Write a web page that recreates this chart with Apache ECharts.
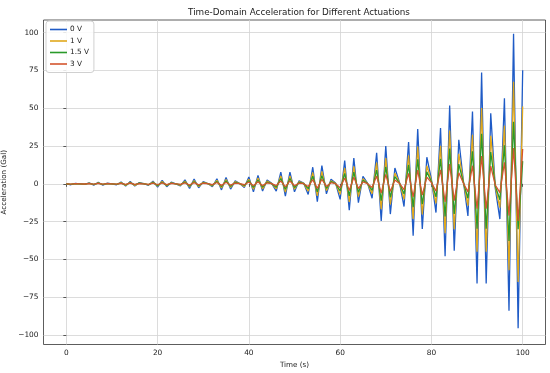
<!DOCTYPE html>
<html><head><meta charset="utf-8">
<script src="https://cdn.jsdelivr.net/npm/echarts@6/dist/echarts.min.js"></script>
<style>html,body{margin:0;padding:0;background:#fff}#c{width:550px;height:373px}</style>
</head><body><div id="c"></div>
<script>
const times = Array.from({length: 101}, (_, i) => i);
const v0 = [0,-0.6,0.3,0,-0.4,0.7,-0.9,1.0,-0.9,0.5,0,-0.6,1.2,-1.5,1.6,-1.4,0.8,0.1,-1.0,1.8,-2.2,2.3,-1.9,1.1,0,-1.4,2.6,-3.0,3.1,-2.6,1.5,0.2,-1.9,3.4,-4.0,4.2,-3.5,2.0,0.2,-2.5,4.6,-5.3,5.6,-4.8,2.6,0.3,-4.8,7.7,-8.1,7.7,-5.3,2.0,0.5,-7.0,11.0,-11.8,12.0,-6.6,3.0,0.5,-10.3,15.4,-17.5,17.1,-12.5,5.0,0.5,-9.5,20.6,-24.6,25.0,-20.0,10.5,1.0,-15.0,27.7,-34.3,36.2,-29.9,17.6,3.0,-19.0,36.9,-47.9,51.8,-44.2,29.2,2.0,-21.2,47.8,-66.0,73.7,-66.0,46.7,-3.0,-23.3,56.6,-84.0,99.3,-95.6,75.2];
const v1 = [0,-0.4,0.2,0,-0.3,0.5,-0.6,0.7,-0.6,0.3,0,-0.4,0.8,-1.0,1.1,-1.0,0.5,0.1,-0.7,1.2,-1.5,1.6,-1.3,0.7,0,-1.0,1.8,-2.0,2.1,-1.8,1.0,0.1,-1.3,2.3,-2.7,2.9,-2.4,1.4,0.1,-1.7,3.1,-3.6,3.8,-3.3,1.8,0.2,-3.3,5.2,-5.5,5.2,-3.6,1.4,0.3,-4.8,7.5,-8.0,8.2,-4.5,2.0,0.3,-7.0,10.5,-11.9,11.6,-8.5,3.4,0.3,-6.5,14.0,-16.7,17.0,-13.6,7.1,0.7,-10.2,18.8,-23.3,24.6,-20.3,12.0,2.0,-12.9,25.1,-32.6,35.2,-30.1,19.9,1.4,-14.4,32.5,-44.9,50.1,-44.9,31.8,-2.0,-15.8,38.5,-57.1,67.5,-65.0,51.1];
const v15 = [0,-0.3,0.1,0,-0.2,0.3,-0.4,0.5,-0.4,0.2,0,-0.3,0.5,-0.7,0.7,-0.6,0.4,0,-0.5,0.8,-1.0,1.0,-0.9,0.5,0,-0.6,1.2,-1.4,1.4,-1.2,0.7,0.1,-0.9,1.5,-1.8,1.9,-1.6,0.9,0.1,-1.1,2.1,-2.4,2.5,-2.2,1.2,0.1,-2.2,3.5,-3.6,3.5,-2.4,0.9,0.2,-3.2,5.0,-5.3,5.4,-3.0,1.4,0.2,-4.6,6.9,-7.9,7.7,-5.6,2.3,0.2,-4.3,9.3,-11.1,11.3,-9.0,4.7,0.5,-6.8,12.5,-15.4,16.3,-13.5,7.9,1.4,-8.6,16.6,-21.6,23.3,-19.9,13.1,0.9,-9.5,21.5,-29.7,33.2,-29.7,21.0,-1.4,-10.5,25.5,-37.8,41.0,-30.0,15.0];
const v3 = [0,-0.2,0.1,0,-0.1,0.2,-0.2,0.3,-0.2,0.1,0,-0.2,0.3,-0.4,0.4,-0.4,0.2,0,-0.3,0.5,-0.6,0.6,-0.5,0.3,0,-0.4,0.7,-0.8,0.8,-0.7,0.4,0.1,-0.5,0.9,-1.0,1.1,-0.9,0.5,0.1,-0.6,1.2,-1.3,1.4,-1.2,0.7,0.1,-1.2,1.9,-2.0,1.9,-1.3,0.5,0.1,-1.8,2.8,-3.0,3.0,-1.7,0.8,0.1,-2.6,3.9,-4.4,4.3,-3.1,1.3,0.1,-2.4,5.2,-6.2,6.3,-5.0,2.6,0.3,-3.8,6.9,-8.6,9.1,-7.5,4.4,0.8,-4.8,9.2,-12.0,13.0,-11.1,7.3,0.5,-5.3,12.0,-16.5,18.4,-16.5,11.7,-0.8,-5.8,14.2,-21.0,23.7,-24.5,23.0];
const seriesNames = ['0 V', '1 V', '1.5 V', '3 V'];
const seriesValues = [v0, v1, v15, v3];
const seriesColors = ['#1f5bc6', '#e0a81c', '#2a9a2a', '#d4552e'];
const xTicks = [0, 20, 40, 60, 80, 100];
const yTicks = [-100, -75, -50, -25, 0, 25, 50, 75, 100];

const chart = echarts.init(document.getElementById('c'), null, {renderer: 'canvas'});
const font = 'DejaVu Sans';
chart.setOption({
  animation: false,
  backgroundColor: '#fff',
  title: {
    text: 'Time-Domain Acceleration for Different Actuations',
    left: 294, top: 3, textAlign: 'center',
    textStyle: {fontFamily: font, fontSize: 8.8, fontWeight: 'normal', color: '#222'}
  },
  legend: {
    orient: 'vertical', left: 46, top: 21,
    data: seriesNames,
    icon: 'rect', itemWidth: 17, itemHeight: 1.6, itemGap: 2.5,
    padding: [4, 5, 4, 4],
    borderColor: '#d0d0d0', borderWidth: 1, borderRadius: 3,
    backgroundColor: 'rgba(255,255,255,0.85)',
    textStyle: {fontFamily: font, fontSize: 7.3, color: '#222', lineHeight: 9, padding: [0, 0, 0, -2]}
  },
  grid: {left: 43.5, right: 4.5, top: 20, bottom: 28.5, show: true, borderColor: '#333', borderWidth: 0.8,
    containLabel: false, outerBoundsMode: 'none'},
  xAxis: {
    type: 'value', min: -5, max: 105,
    name: 'Time (s)', nameLocation: 'middle', nameGap: 15,
    nameTextStyle: {fontFamily: font, fontSize: 7.2, color: '#222'},
    axisLine: {show: false},
    axisTick: {show: true, customValues: xTicks, length: 3, lineStyle: {color: '#333', width: 0.8}},
    axisLabel: {customValues: xTicks, fontFamily: font, fontSize: 7.4, color: '#222', margin: 5},
    splitLine: {show: true, lineStyle: {color: '#d3d3d3', width: 0.8}}
  },
  yAxis: {
    type: 'value', min: -106.3, max: 108.4,
    name: 'Acceleration (Gal)', nameLocation: 'middle', nameGap: 29, nameRotate: 90,
    nameTextStyle: {fontFamily: font, fontSize: 7.2, color: '#222'},
    axisLine: {show: false},
    axisTick: {show: true, customValues: yTicks, length: 3, lineStyle: {color: '#333', width: 0.8}},
    axisLabel: {customValues: yTicks, fontFamily: font, fontSize: 7.4, color: '#222', margin: 5,
      formatter: v => (v < 0 ? '\u2212' + Math.abs(v) : String(v))},
    splitLine: {show: true, lineStyle: {color: '#d3d3d3', width: 0.8}}
  },
  series: seriesNames.map((n, i) => ({
    name: n, type: 'line', symbol: 'none', z: 2 + i,
    data: times.map((t, j) => [t, seriesValues[i][j]]),
    lineStyle: {color: seriesColors[i], width: 1.3},
    itemStyle: {color: seriesColors[i]}
  }))
});
</script></body></html>
